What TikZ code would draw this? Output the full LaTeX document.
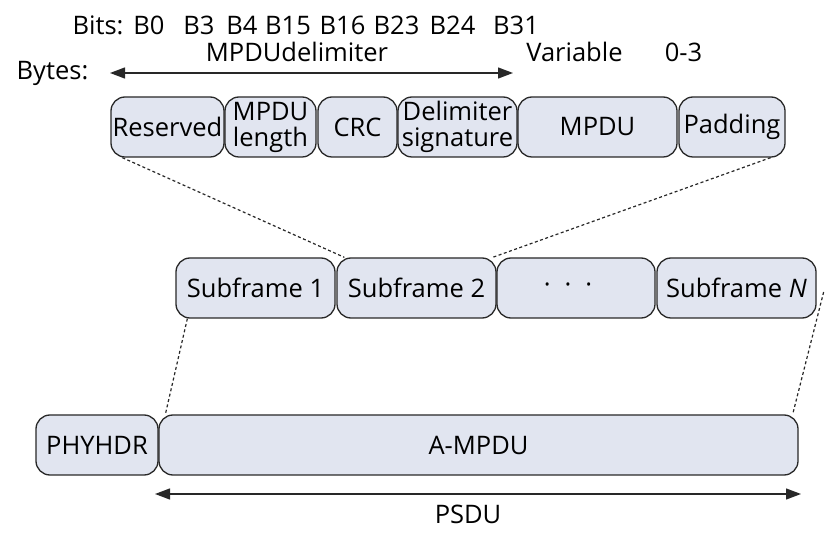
\documentclass[tikz,border=0pt]{standalone}
\usepackage{fontspec}
\setmainfont{Open Sans}
\usetikzlibrary{arrows.meta}
\definecolor{cellfill}{RGB}{225,229,240}
\definecolor{edge}{RGB}{40,40,40}
\begin{document}
\begin{tikzpicture}[x=1pt,y=-1pt,
  cell/.style={draw=edge, fill=cellfill, rounded corners=14pt, line width=1.3pt, minimum height=60pt, inner sep=0pt, font=\fontsize{25.5}{26}\selectfont, align=center},
  lbl/.style={inner sep=0pt, anchor=base, font=\fontsize{25.5}{26}\selectfont},
  dim/.style={draw=edge, line width=1.3pt, {Triangle[length=15pt,width=11pt]}-{Triangle[length=15pt,width=11pt]}},
  link/.style={draw=edge, line width=1.2pt, dash pattern=on 3pt off 2.5pt}]
\useasboundingbox (0,0) rectangle (839,553);
% bit labels
\node[lbl] (bits) at (98,35) {Bits:};
\node[lbl] (b0) at (149,35) {B0};
\node[lbl] (b3) at (199,35) {B3};
\node[lbl] (b4) at (242,35) {B4};
\node[lbl] (b15) at (288,35) {B15};
\node[lbl] (b16) at (342.5,35) {B16};
\node[lbl] (b23) at (396.5,35) {B23};
\node[lbl] (b24) at (452.5,35) {B24};
\node[lbl] (b31) at (516,35) {B31};
% byte labels
\node[lbl] (mdel) at (297,62) {MPDUdelimiter};
\node[lbl] (var) at (574.5,62) {Variable};
\node[lbl] (pad03) at (683.5,62) {0-3};
\node[lbl] (bytes) at (52.5,80) {Bytes:};
\coordinate (ta) at (110,73);
\coordinate (tb) at (513,73);
\draw[dim] (ta) -- (tb);
% top row
\node[cell, minimum width=113pt] (res) at (167.5,127) {Reserved};
\node[cell, minimum width=91pt] (len) at (270.5,127) {MPDU\\length};
\node[cell, minimum width=79pt] (crc) at (357.5,127) {CRC};
\node[cell, minimum width=119pt] (sig) at (457.5,127) {Delimiter\\signature};
\node[cell, minimum width=159pt] (mpdu) at (597.5,127) {MPDU};
\node[cell, minimum width=106pt] (pad) at (732,127) {Padding};
% middle row
\node[cell, minimum width=159pt] (s1) at (255.5,288) {Subframe 1};
\node[cell, minimum width=159pt] (s2) at (416.5,288) {Subframe 2};
\node[cell, minimum width=158pt] (sd) at (576,288) {·\hspace{14pt}·\hspace{14pt}·\hspace*{16pt}};
\node[cell, minimum width=159pt] (sn) at (736.5,288) {Subframe \textit{N}};
% bottom row
\node[cell, minimum width=122pt] (phy) at (97,445) {PHYHDR};
\node[cell, minimum width=639pt] (am) at (478.5,445) {A-MPDU};
\coordinate (ba) at (155,494);
\coordinate (bb) at (801,494);
\draw[dim] (ba) -- (bb);
\node[lbl] (psdu) at (468,523) {PSDU};
% dotted links
\draw[link] ([xshift=12pt]res.south west) -- ([xshift=8pt]s2.north west);
\draw[link] ([xshift=-15pt]pad.south east) -- ([xshift=-4pt]s2.north east);
\draw[link] ([xshift=12pt]s1.south west) -- ([xshift=7pt]am.north west);
\draw[link] ([xshift=7pt,yshift=-4pt]sn.east) -- ([xshift=-6pt]am.north east);
\end{tikzpicture}
\end{document}
